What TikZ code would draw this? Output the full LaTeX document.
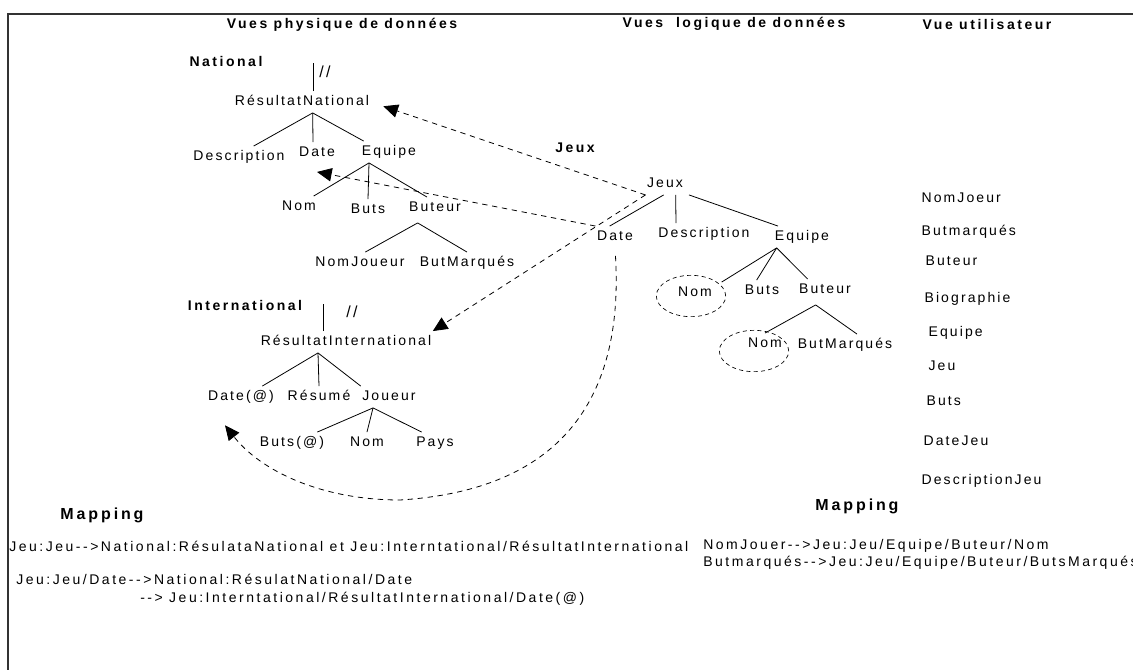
\documentclass[tikz,border=0pt]{standalone}
\usepackage{fontspec}
\setmainfont{Liberation Sans}
\newfontfamily\lblfont[LetterSpace=15]{Liberation Sans}
\newfontfamily\mapfont[LetterSpace=18]{Liberation Sans}
\newfontfamily\hdfont[LetterSpace=18]{Liberation Sans}
\usetikzlibrary{arrows.meta, shapes.geometric}

\begin{document}
\begin{tikzpicture}[x=0.75pt, y=-0.75pt,
    lbl/.style={inner xsep=1pt, inner ysep=3pt, text height=8pt, text depth=2pt,
      font=\lblfont\fontsize{10.5pt}{12pt}\selectfont},
    hd/.style={inner sep=1pt, font=\hdfont\bfseries\fontsize{10.5pt}{12pt}\selectfont},
    maphd/.style={inner sep=1pt, font=\hdfont\bfseries\fontsize{12pt}{14pt}\selectfont},
    maptxt/.style={inner sep=0pt, anchor=west, font=\mapfont\fontsize{10.5pt}{12pt}\selectfont},
    br/.style={line width=0.6pt},
    lnk/.style={line width=0.6pt, dash pattern=on 4pt off 3.5pt, -{Triangle[length=11pt,width=10pt]}},
    ring/.style={draw, ellipse, line width=0.5pt, dash pattern=on 3pt off 2.5pt,
      minimum width=52pt, minimum height=31pt, inner sep=0pt}]
  \useasboundingbox (0,0) rectangle (1133,670);
  \draw[line width=1.2pt, black!80] (8,670) -- (8,14) -- (1133,14);

  \node[hd] (vp) at (342,25) {Vues physique de données};
  \node[hd] (vl) at (734,24) {Vues\ \ logique de données};
  \node[hd] (vu) at (987,24) {Vue utilisateur};

  % National
  \node[hd] (nat) at (226,61) {National};
  \node[lbl] (rn) at (302,102) {RésultatNational};
  \coordinate (ntop) at (313,63);
  \draw[br] (rn.north -| ntop) -- (ntop);
  \node[lbl, font=\lblfont\fontsize{12pt}{14pt}\selectfont] (sl1) at (325,74) {//};
  \node[lbl] (d1) at (239,157) {Description};
  \node[lbl] (d2) at (317,153) {Date};
  \node[lbl] (d3) at (389,152) {Equipe};
  \node[lbl] (e1) at (299,207) {Nom};
  \node[lbl] (e2) at (368,210) {Buts};
  \node[lbl] (e3) at (435,208) {Buteur};
  \node[lbl] (f1) at (360,263) {NomJoueur};
  \node[lbl] (f2) at (467,263) {ButMarqués};

  \draw[br] ([xshift=8pt]rn.south) -- ([xshift=11pt]d1.north);
  \draw[br] ([xshift=8pt]rn.south) -- ([xshift=-3pt]d2.north);
  \draw[br] ([xshift=8pt]rn.south) -- ([xshift=-19pt]d3.north);
  \draw[br] ([xshift=-15pt]d3.south) -- ([xshift=11pt]e1.north);
  \draw[br] ([xshift=-15pt]d3.south) -- (e2.north);
  \draw[br] ([xshift=-15pt]d3.south) -- ([xshift=-6pt]e3.north);
  \draw[br] ([xshift=-13pt,yshift=-3pt]e3.south) -- ([xshift=4pt]f1.north);
  \draw[br] ([xshift=-13pt,yshift=-3pt]e3.south) -- (f2.north);

  % International
  \node[hd] (intl) at (245,305) {International};
  \node[lbl] (ri) at (346,342) {RésultatInternational};
  \coordinate (itop) at (323,304);
  \draw[br] (ri.north -| itop) -- (itop);
  \node[lbl, font=\lblfont\fontsize{12pt}{14pt}\selectfont] (sl2) at (352,314) {//};
  \node[lbl] (da) at (241,397) {Date(@)};
  \node[lbl] (rs) at (319,397) {Résumé};
  \node[lbl] (jo) at (389,397) {Joueur};
  \node[lbl] (bu) at (292,443) {Buts(@)};
  \node[lbl] (nm) at (367,443) {Nom};
  \node[lbl] (py) at (435,443) {Pays};

  \draw[br] ([xshift=-21pt]ri.south) -- ([xshift=16pt]da.north);
  \draw[br] ([xshift=-21pt]ri.south) -- (rs.north);
  \draw[br] ([xshift=-21pt]ri.south) -- (jo.north west);
  \draw[br] ([xshift=-12pt]jo.south) -- ([xshift=19pt]bu.north);
  \draw[br] ([xshift=-12pt]jo.south) -- (nm.north);
  \draw[br] ([xshift=-12pt]jo.south) -- ([xshift=-10pt]py.north);

  % Jeux
  \node[hd] (jx) at (575,148) {Jeux};
  \node[lbl] (jl) at (665,184) {Jeux};
  \node[lbl] (dl) at (615,237) {Date};
  \node[lbl] (ds) at (704,234) {Description};
  \node[lbl] (eq) at (802,237) {Equipe};
  \node[lbl] (nl) at (695,293) {Nom};
  \node[lbl] (bl) at (762,291) {Buts};
  \node[lbl] (tl) at (825,290) {Buteur};
  \node[lbl] (n2) at (765,344) {Nom};
  \node[lbl] (bm) at (845,345) {ButMarqués};
  \node[ring] (r1) at (691,296) {};
  \node[ring] (r2) at (754,351) {};

  \draw[br] ([xshift=-1pt]jl.south) -- ([xshift=-4pt]dl.north);
  \draw[br] ([xshift=8pt]jl.south) -- ([xshift=-21pt]ds.north);
  \draw[br] ([xshift=18pt]jl.south) -- ([xshift=-18pt]eq.north);
  \draw[br] ([xshift=-19pt]eq.south) -- ([xshift=20pt]nl.north);
  \draw[br] ([xshift=-19pt]eq.south) -- ([xshift=-4pt]bl.north);
  \draw[br] ([xshift=-19pt]eq.south) -- ([xshift=-13pt]tl.north);
  \draw[br] ([xshift=-7pt,yshift=-3pt]tl.south) -- (n2.north);
  \draw[br] ([xshift=-7pt,yshift=-3pt]tl.south) -- ([xshift=9pt]bm.north);

  \draw[lnk, shorten >=10pt] (jl.south west) -- (rn.east);
  \draw[lnk] (jl.south west) -- (ri.north east);
  \draw[lnk] (dl.north west) -- ([yshift=-6pt]d2.south);
  \draw[lnk, shorten <=6pt] (dl.south) .. controls (624,400) and (560,490) .. (400,500)
    .. controls (320,500) and (260,470) .. ([xshift=-12pt,yshift=-13pt]da.south);

  % Vue utilisateur
  \node[lbl, anchor=west] (u1) at (920,199) {NomJoeur};
  \node[lbl, anchor=west] (u2) at (920,232) {Butmarqués};
  \node[lbl, anchor=west] (u3) at (924,262) {Buteur};
  \node[lbl, anchor=west] (u4) at (923,299) {Biographie};
  \node[lbl, anchor=west] (u5) at (927,333) {Equipe};
  \node[lbl, anchor=west] (u6) at (927,367) {Jeu};
  \node[lbl, anchor=west] (u7) at (925,402) {Buts};
  \node[lbl, anchor=west] (u8) at (922,442) {DateJeu};
  \node[lbl, anchor=west] (u9) at (920,481) {DescriptionJeu};

  % Mapping
  \node[maphd] (m1) at (102,515) {Mapping};
  \node[maphd] (m2) at (857,506) {Mapping};
  \node[maptxt] (t1) at (9,546) {Jeu:Jeu-{}->National:RésulataNational et Jeu:Interntational/RésultatInternational};
  \node[maptxt] (t2) at (16,579) {Jeu:Jeu/Date-{}->National:RésulatNational/Date};
  \node[maptxt] (t3) at (140,599) {-{}-> Jeu:Interntational/RésultatInternational/Date(@)};
  \node[maptxt] (t4) at (703,546) {NomJouer-{}->Jeu:Jeu/Equipe/Buteur/Nom};
  \node[maptxt] (t5) at (703,563) {Butmarqués-{}->Jeu:Jeu/Equipe/Buteur/ButsMarqués};
\end{tikzpicture}
\end{document}
